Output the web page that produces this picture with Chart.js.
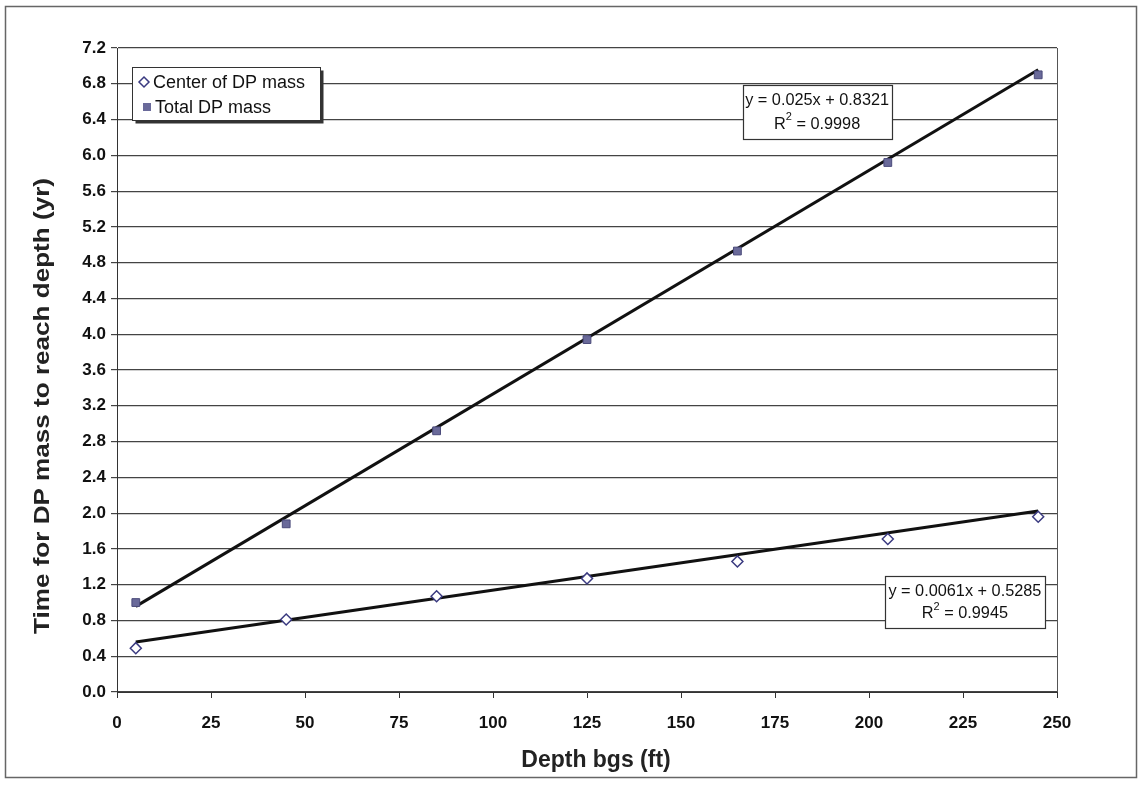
<!DOCTYPE html>
<html>
<head>
<meta charset="utf-8">
<script src="https://cdn.jsdelivr.net/npm/chart.js@4/dist/chart.umd.min.js"></script>
<style>
  html, body { margin: 0; padding: 0; background: #fff; }
  #wrap { width: 1140px; height: 786px; position: relative; }
</style>
</head>
<body>
<div id="wrap"><canvas id="c" width="1140" height="786"></canvas></div>
<script>
// Depth below ground surface (ft) for each sampled interval
const depths = [5, 45, 85, 125, 165, 205, 245];
// Time (yr) for the center of DP mass to reach each depth
const centerMass = [0.49, 0.81, 1.07, 1.27, 1.46, 1.71, 1.96];
// Time (yr) for the total DP mass to reach each depth
const totalMass = [1.0, 1.88, 2.92, 3.94, 4.93, 5.92, 6.9];
// Linear fits: [slope, intercept, R²] for center and total series
const centerFit = [0.0061, 0.5285, 0.9945];
const totalFit = [0.025, 0.8321, 0.9998];
// Axis tick labels
const yTicks = ['0.0','0.4','0.8','1.2','1.6','2.0','2.4','2.8','3.2','3.6','4.0','4.4','4.8','5.2','5.6','6.0','6.4','6.8','7.2'];
const xTicks = [0, 25, 50, 75, 100, 125, 150, 175, 200, 225, 250];

const seriesNames = ['Center of DP mass', 'Total DP mass'];
const xTitle = 'Depth bgs (ft)';
const yTitle = 'Time for DP mass to reach depth (yr)';

function fitLine(fit) {
  const x0 = depths[0], x1 = depths[depths.length - 1];
  return [{ x: x0, y: fit[0] * x0 + fit[1] }, { x: x1, y: fit[0] * x1 + fit[1] }];
}

const FONT = 'Arial, "Liberation Sans", sans-serif';

// Figure frame, axis titles, legend and fit-equation boxes
const decorations = {
  id: 'decorations',
  beforeDraw(chart) {
    const ctx = chart.ctx;
    ctx.save();
    ctx.fillStyle = '#fff';
    ctx.fillRect(0, 0, chart.width, chart.height);
    ctx.restore();
  },
  afterDraw(chart) {
    const ctx = chart.ctx;
    const xs = chart.scales.x, ys = chart.scales.y;
    const area = chart.chartArea;
    ctx.save();
    // outer frame
    ctx.strokeStyle = '#666';
    ctx.lineWidth = 1.5;
    ctx.strokeRect(5.5, 6.5, 1131, 771);
    // plot-area right border
    ctx.strokeStyle = '#555';
    ctx.lineWidth = 1;
    ctx.beginPath();
    ctx.moveTo(area.right + 0.5, area.top);
    ctx.lineTo(area.right + 0.5, area.bottom);
    ctx.stroke();

    // axis titles
    ctx.fillStyle = '#222';
    ctx.textAlign = 'center';
    ctx.textBaseline = 'middle';
    ctx.font = 'bold 23px ' + FONT;
    ctx.fillText(xTitle, 596, 761);
    ctx.save();
    ctx.translate(43, 406);
    ctx.rotate(-Math.PI / 2);
    ctx.font = 'bold 22px ' + FONT;
    const tw = ctx.measureText(yTitle).width;
    ctx.scale(456 / tw, 1);
    ctx.fillText(yTitle, 0, 0);
    ctx.restore();

    function eqBox(fit, cx, cy, w, h, fs) {
      const px = xs.getPixelForValue(cx), py = ys.getPixelForValue(cy);
      const l = Math.round(px - w / 2) + 0.5, t = Math.round(py - h / 2) + 0.5;
      ctx.fillStyle = '#fff';
      ctx.fillRect(l, t, w, h);
      ctx.strokeStyle = '#333';
      ctx.lineWidth = 1.2;
      ctx.strokeRect(l, t, w, h);
      ctx.fillStyle = '#111';
      ctx.font = fs + 'px ' + FONT;
      ctx.textAlign = 'center';
      ctx.textBaseline = 'middle';
      const eq = 'y = ' + fit[0] + 'x + ' + fit[1];
      ctx.fillText(eq, px, t + h * 0.28);
      // R² line with superscript
      const rTxt = ' = ' + fit[2].toFixed(4);
      const rW = ctx.measureText('R').width;
      const ss = Math.round(fs * 0.65);
      ctx.font = ss + 'px ' + FONT;
      const sW = ctx.measureText('2').width;
      ctx.font = fs + 'px ' + FONT;
      const restW = ctx.measureText(rTxt).width;
      const total = rW + sW + restW;
      const x0 = px - total / 2;
      const yLine = t + h * 0.72;
      ctx.textAlign = 'left';
      ctx.fillText('R', x0, yLine);
      ctx.font = ss + 'px ' + FONT;
      ctx.fillText('2', x0 + rW, yLine - 7);
      ctx.font = fs + 'px ' + FONT;
      ctx.fillText(rTxt, x0 + rW + sW, yLine);
    }
    eqBox(totalFit, 186.2, 6.49, 149, 54, 16.3);
    eqBox(centerFit, 225.5, 1.006, 160, 52, 16.3);

    // legend
    const lx = 132.5, ly = 67.5, lw = 188, lh = 53;
    ctx.fillStyle = '#333';
    ctx.fillRect(lx + 3, ly + 3, lw, lh);
    ctx.fillStyle = '#fff';
    ctx.fillRect(lx, ly, lw, lh);
    ctx.strokeStyle = '#333';
    ctx.lineWidth = 1;
    ctx.strokeRect(lx, ly, lw, lh);
    ctx.font = '18px ' + FONT;
    ctx.textAlign = 'left';
    ctx.textBaseline = 'middle';
    const d1y = 82, d2y = 107;
    // diamond marker
    ctx.beginPath();
    ctx.moveTo(144, d1y - 5);
    ctx.lineTo(149, d1y);
    ctx.lineTo(144, d1y + 5);
    ctx.lineTo(139, d1y);
    ctx.closePath();
    ctx.fillStyle = '#fff';
    ctx.fill();
    ctx.strokeStyle = '#3a3a80';
    ctx.lineWidth = 1.5;
    ctx.stroke();
    // square marker
    ctx.fillStyle = '#6a6a9a';
    ctx.fillRect(143, d2y - 4, 8, 8);
    ctx.fillStyle = '#111';
    ctx.fillText(seriesNames[0], 153, d1y + 1);
    ctx.fillText(seriesNames[1], 155, d2y + 1);
    ctx.restore();
  }
};

new Chart(document.getElementById('c'), {
  type: 'scatter',
  data: {
    datasets: [
      {
        label: seriesNames[0],
        data: depths.map((d, i) => ({ x: d, y: centerMass[i] })),
        pointStyle: 'rectRot',
        pointRadius: 5.5,
        backgroundColor: '#fff',
        borderColor: '#3a3a80',
        borderWidth: 1.5,
        order: 1
      },
      {
        label: seriesNames[1],
        data: depths.map((d, i) => ({ x: d, y: totalMass[i] })),
        pointStyle: 'rect',
        pointRadius: 5.5,
        backgroundColor: '#6a6a9a',
        borderColor: '#4a4a7a',
        borderWidth: 1,
        order: 1
      },
      {
        label: 'fit-center',
        type: 'line',
        data: fitLine(centerFit),
        borderColor: '#111',
        borderWidth: 3,
        pointRadius: 0,
        fill: false,
        order: 2
      },
      {
        label: 'fit-total',
        type: 'line',
        data: fitLine(totalFit),
        borderColor: '#111',
        borderWidth: 3,
        pointRadius: 0,
        fill: false,
        order: 2
      }
    ]
  },
  options: {
    responsive: false,
    animation: false,
    layout: { padding: { top: 48, right: 83, left: 0, bottom: 0 } },
    plugins: {
      legend: { display: false },
      tooltip: { enabled: false }
    },
    scales: {
      x: {
        type: 'linear',
        min: 0, max: 250,
        afterBuildTicks(axis) { axis.ticks = xTicks.map(v => ({ value: v })); },
        afterFit(axis) { axis.height = 94; },
        grid: { display: true, drawOnChartArea: false, drawTicks: true, tickLength: 6, color: '#333' },
        border: { display: true, color: '#333', width: 1 },
        ticks: { color: '#111', font: { family: FONT, size: 17, weight: 'bold' }, padding: 15, maxRotation: 0 },
        title: { display: false }
      },
      y: {
        type: 'linear',
        min: 0, max: 7.2,
        afterBuildTicks(axis) { axis.ticks = yTicks.map(v => ({ value: parseFloat(v) })); },
        afterFit(axis) { axis.width = 117; },
        grid: { display: true, color: '#444', lineWidth: 1.2, drawTicks: true, tickLength: 6 },
        border: { display: true, color: '#333', width: 1 },
        ticks: {
          color: '#111', font: { family: FONT, size: 17, weight: 'bold' }, padding: 5,
          callback: (v, i) => yTicks[i]
        },
        title: { display: false }
      }
    }
  },
  plugins: [decorations]
});
</script>
</body>
</html>
